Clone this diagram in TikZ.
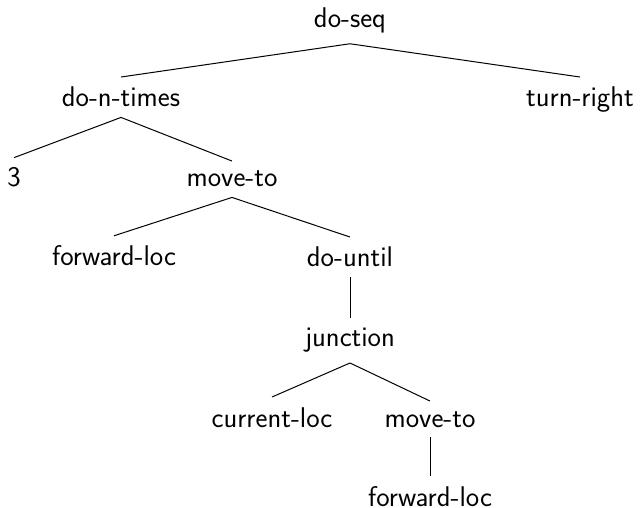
\documentclass[tikz,border=0pt]{standalone}
\begin{document}
\begin{tikzpicture}[x=1pt,y=-1pt,
  tn/.style={anchor=base, inner sep=10pt, font=\sffamily\fontsize{28.5}{34}\selectfont},
  edge/.style={line width=1pt}]
\useasboundingbox (0,0) rectangle (641,508);
\node[tn] (doseq) at (350,28) {do-seq};
\node[tn] (dontimes) at (121,107) {do-n-times};
\node[tn] (turnright) at (580,107) {turn-right};
\node[tn] (three) at (14,187) {3};
\node[tn] (moveto) at (232,187) {move-to};
\node[tn] (fwdloc) at (114,266) {forward-loc};
\node[tn] (dountil) at (350,267) {do-until};
\node[tn] (junction) at (350,347) {junction};
\node[tn] (curloc) at (272,427) {current-loc};
\node[tn] (movetob) at (430,427) {move-to};
\node[tn] (fwdlocb) at (430,506) {forward-loc};
\draw[edge] (doseq.south) -- (dontimes.north);
\draw[edge] (doseq.south) -- (turnright.north);
\draw[edge] (dontimes.south) -- (three.north);
\draw[edge] (dontimes.south) -- (moveto.north);
\draw[edge] (moveto.south) -- (fwdloc.north);
\draw[edge] (moveto.south) -- (dountil.north);
\draw[edge] (dountil.south) -- (junction.north);
\draw[edge] (junction.south) -- (curloc.north);
\draw[edge] (junction.south) -- (movetob.north);
\draw[edge] (movetob.south) -- (fwdlocb.north);
\end{tikzpicture}
\end{document}
